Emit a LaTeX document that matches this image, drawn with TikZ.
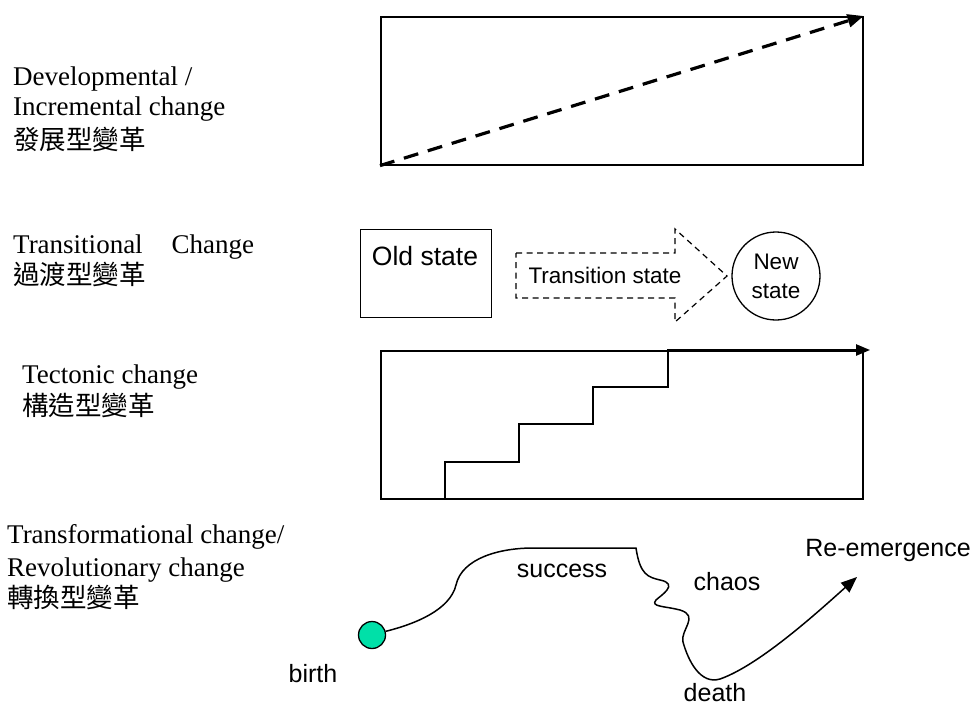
\documentclass[tikz,border=0pt]{standalone}
\usepackage{fontspec}
\setmainfont{Liberation Serif}
\newfontfamily\sansf{Liberation Sans}
\newfontfamily\cjk{Noto Sans CJK TC}
\usetikzlibrary{arrows.meta}
\definecolor{mint}{RGB}{0,224,168}
\begin{document}
\begin{tikzpicture}[x=1pt,y=-1pt,
  lbl/.style={anchor=base west, inner sep=0pt, font=\fontsize{27}{30}\selectfont},
  cjklbl/.style={anchor=base west, inner sep=0pt, font=\fontsize{26.5}{30}\cjk},
  sanslbl/.style={anchor=base, inner sep=0pt, font=\fontsize{25}{30}\sansf},
  frame/.style={draw, line width=1.6pt, inner sep=0pt, anchor=north west, minimum width=482pt, minimum height=148pt},
  tri/.style={-{Triangle[length=#1, width=0.8*#1]}}
]
\useasboundingbox (0,0) rectangle (974,705);

% ---- left labels
\node[lbl] (l1a) at (13,85) {Developmental /};
\node[lbl] (l1b) at (13,115) {Incremental change};
\node[cjklbl] (l1c) at (13,149) {發展型變革};
\node[lbl] (l2a) at (13,253) {Transitional\hspace{29pt}Change};
\node[cjklbl] (l2c) at (13,284) {過渡型變革};
\node[lbl] (l3a) at (22,383) {Tectonic change};
\node[cjklbl] (l3c) at (22,415) {構造型變革};
\node[lbl] (l4a) at (7,543) {Transformational change/};
\node[lbl] (l4b) at (7,576) {Revolutionary change};
\node[cjklbl] (l4c) at (7,607) {轉換型變革};

% ---- row 1: developmental
\node[frame] (dev) at (380,16) {};
\draw[line width=3.2pt, dash pattern=on 15pt off 10pt, tri=16pt] (dev.south west) -- (dev.north east);

% ---- row 2: transitional
\node[draw, line width=1.3pt, inner sep=0pt, anchor=north west, minimum width=131pt, minimum height=88pt] (old) at (360,229) {};
\node[sanslbl, font=\fontsize{26.5}{30}\sansf] (oldtxt) at (425,265) {Old state};
\draw[line width=1.2pt, dash pattern=on 6pt off 4.5pt]
  (516,253) -- (675,253) -- (675,229) -- (727,276) -- (675,322) -- (675,298) -- (516,298) -- cycle;
\node[sanslbl, font=\fontsize{22.5}{30}\sansf] (trans) at (605,283) {Transition state};
\node[draw, circle, line width=1.3pt, minimum size=88pt, inner sep=0pt, align=center,
      font=\fontsize{22.5}{29}\sansf] (new) at (776,276) {New\\state};

% ---- row 3: tectonic
\node[frame, line width=1.5pt] (tec) at (380,350) {};
\coordinate (s0) at (445,498);
\coordinate (tip3) at (870,350);
\draw[line width=2pt, tri=14pt] (s0) |- (519,462) |- (593,424) |- (668,387) |- (tip3);

% ---- row 4: transformational
\node[circle, draw, fill=mint, line width=1.3pt, minimum size=27pt, inner sep=0pt] (dot) at (372,635) {};
\coordinate (reem) at (857,577);
\draw[line width=1.5pt, tri=16pt]
  (dot.15) .. controls (415,624) and (450,610) .. (456,585)
  .. controls (462,558) and (500,548) .. (533,548)
  -- (636,548)
  .. controls (640,575) and (648,577) .. (660,580)
  .. controls (680,584) and (660,596) .. (656,600)
  .. controls (650,607) and (665,606) .. (680,610)
  .. controls (700,616) and (680,630) .. (683,642)
  .. controls (688,660) and (700,685) .. (720,679)
  .. controls (760,665) and (820,610) .. (reem);

\node[sanslbl] (birth) at (313,682) {birth};
\node[sanslbl] (success) at (562,577) {success};
\node[sanslbl] (chaos) at (727,590) {chaos};
\node[sanslbl] (death) at (715,701) {death};
\node[sanslbl] (reemtxt) at (888,556) {Re-emergence};
\end{tikzpicture}
\end{document}
